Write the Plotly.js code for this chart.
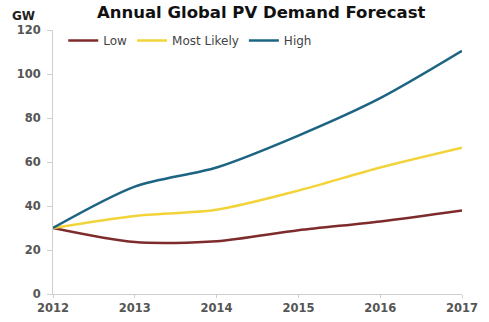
<!DOCTYPE html>
<html><head><meta charset="utf-8">
<script src="https://cdn.plot.ly/plotly-3.0.1.min.js"></script>
<style>html,body{margin:0;padding:0;background:#fff}</style>
</head><body><div id="chart" style="width:489px;height:322px"></div>
<script>
const years = [2012, 2013, 2014, 2015, 2016, 2017];
const low = [30, 23.6, 24, 29, 33, 38];
const mostLikely = [30, 35.5, 38.3, 47, 57.5, 66.5];
const high = [30, 48.8, 57.5, 72, 89, 110.5];
const seriesNames = ["Low", "Most Likely", "High"];
const yTicks = [0, 20, 40, 60, 80, 100, 120];

const colors = ["#7f2b2b", "#f2d43a", "#1d6482"];
const data = [low, mostLikely, high].map((vals, i) => ({
  x: years, y: vals, name: seriesNames[i], type: "scatter", mode: "lines",
  line: {color: colors[i], width: 2.5, shape: "spline", smoothing: 0.8}
}));

const tickFont = {family: "DejaVu Sans, Verdana, sans-serif", size: 11.5, color: "#555", weight: "bold"};
const layout = {
  width: 489, height: 322,
  margin: {l: 53, r: 27, t: 30, b: 28},
  paper_bgcolor: "#fff", plot_bgcolor: "#fff",
  font: {family: "DejaVu Sans, Verdana, sans-serif", size: 11, color: "#444"},
  title: {text: "<b>Annual Global PV Demand Forecast</b>", x: 0.534, xanchor: "center", y: 0.962, yanchor: "middle",
          font: {family: "DejaVu Sans, Verdana, sans-serif", size: 16.5, color: "#111"}},
  xaxis: {range: [2012, 2017], tickvals: years, ticktext: years.map(String), showgrid: false, zeroline: false,
          showline: true, linecolor: "#cfcfcf", linewidth: 1, ticks: "outside", ticklen: 3, tickcolor: "#cfcfcf",
          tickfont: tickFont, fixedrange: true},
  yaxis: {range: [0, 120], tickvals: yTicks, showgrid: false, zeroline: false,
          showline: true, linecolor: "#cfcfcf", linewidth: 1, ticks: "outside", ticklen: 5, tickcolor: "#cfcfcf",
          tickfont: tickFont, ticklabelstandoff: 4, fixedrange: true},
  legend: {orientation: "h", x: 0.025, y: 1.015, xanchor: "left", yanchor: "top", bgcolor: "rgba(0,0,0,0)",
           font: {size: 12, color: "#444"}, itemwidth: 30, tracegroupgap: 0},
  annotations: [{text: "<b>GW</b>", xref: "paper", yref: "paper", x: -0.106, y: 1.053, xanchor: "left", yanchor: "middle",
                 showarrow: false, font: {size: 12, color: "#222"}}],
  showlegend: true
};
Plotly.newPlot("chart", data, layout, {displayModeBar: false, staticPlot: true});
</script></body></html>
